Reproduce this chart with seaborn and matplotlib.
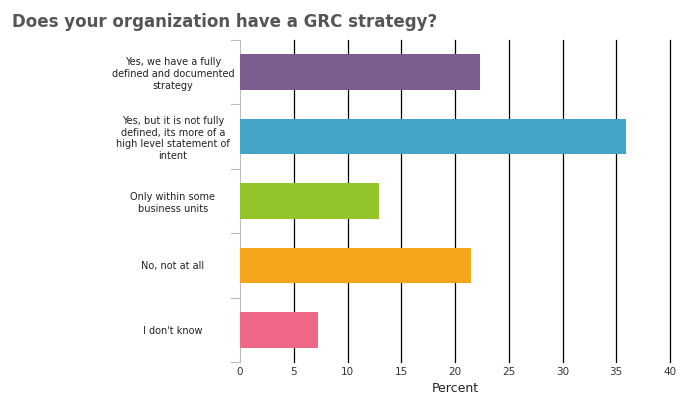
import matplotlib
matplotlib.use("Agg")
import matplotlib.pyplot as plt
import seaborn as sns
import pandas as pd

categories = [
    "Yes, we have a fully\ndefined and documented\nstrategy",
    "Yes, but it is not fully\ndefined, its more of a\nhigh level statement of\nintent",
    "Only within some\nbusiness units",
    "No, not at all",
    "I don't know",
]
percent = [22.3, 35.9, 12.9, 21.5, 7.3]
colors = ["#7B5E8E", "#42A5C5", "#93C42A", "#F4A51C", "#EF6786"]
ticks = [0, 5, 10, 15, 20, 25, 30, 35, 40]

df = pd.DataFrame({"cat": categories, "pct": percent})

fig = plt.figure(figsize=(7.0, 4.07), dpi=100)
ax = fig.add_axes([240 / 700, 45 / 407, 430 / 700, 322 / 407])
sns.barplot(data=df, x="pct", y="cat", hue="cat", palette=colors,
            saturation=1, legend=False, width=0.55, ax=ax, zorder=3)

ax.set_xlim(0, 40)
ax.set_xticks(ticks)
ax.set_ylim(4.5, -0.5)
for t in ticks[1:]:
    ax.axvline(t, color="black", lw=0.9, zorder=1, clip_on=False)
ax.tick_params(axis="x", length=0, labelsize=7.5, colors="#333333")
ax.tick_params(axis="y", length=0, labelsize=7, colors="#222222", pad=8)
for lbl in ax.get_yticklabels():
    lbl.set_horizontalalignment("center")
    lbl.set_x(-0.13)
# separators between categories on the left
for y in [-0.5, 0.5, 1.5, 2.5, 3.5, 4.5]:
    ax.plot([-0.02, 0], [y, y], transform=ax.get_yaxis_transform(),
            color="#bbbbbb", lw=0.8, clip_on=False)
for s in ["top", "right", "bottom"]:
    ax.spines[s].set_visible(False)
ax.spines["left"].set_color("#bbbbbb")
ax.set_xlabel("Percent", fontsize=9, color="#222222")
ax.set_ylabel("")

fig.text(12 / 700, 1 - 22 / 407, "Does your organization have a GRC strategy?",
         fontsize=12, color="#555555", fontweight="semibold", va="center")

fig.savefig("out.png", dpi=100)
